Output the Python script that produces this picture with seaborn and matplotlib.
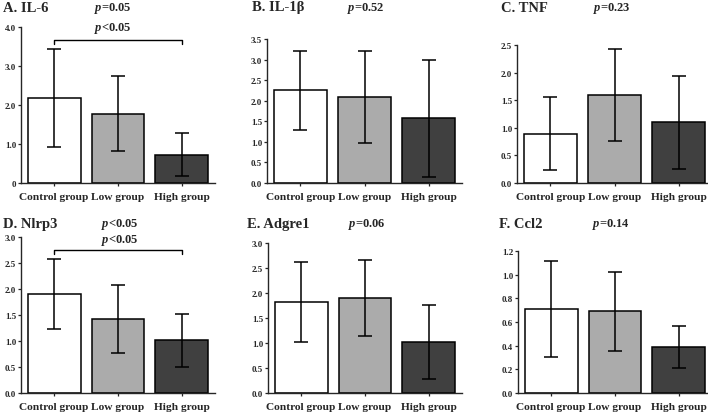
import numpy as np
import pandas as pd
import matplotlib
matplotlib.use("Agg")
import matplotlib.pyplot as plt
import seaborn as sns

sns.set_theme(style="ticks")
plt.rcParams['font.family'] = ['Liberation Serif', 'DejaVu Serif']
plt.rcParams['mathtext.fontset'] = 'custom'
plt.rcParams['mathtext.it'] = 'Liberation Serif:bold:italic'
plt.rcParams['mathtext.rm'] = 'Liberation Serif:bold'

groups = ["Control group", "Low group", "High group"]
colors = ["#FFFFFF", "#ABABAB", "#404040"]

titles = ["A. IL-6", "B. IL-1β", "C. TNF", "D. Nlrp3", "E. Adgre1", "F. Ccl2"]
pvals = ["$p$=0.05", "$p$=0.52", "$p$=0.23", "$p$<0.05", "$p$=0.06", "$p$=0.14"]

il6_mean = [2.18, 1.78, 0.73]
il6_sd = [1.25, 0.97, 0.54]
il1b_mean = [2.25, 2.10, 1.57]
il1b_sd = [0.95, 1.12, 1.42]
tnf_mean = [0.89, 1.59, 1.10]
tnf_sd = [0.66, 0.83, 0.84]
nlrp3_mean = [1.90, 1.42, 1.01]
nlrp3_sd = [0.67, 0.65, 0.51]
adgre1_mean = [1.83, 1.91, 1.02]
adgre1_sd = [0.80, 0.76, 0.74]
ccl2_mean = [0.71, 0.69, 0.39]
ccl2_sd = [0.405, 0.335, 0.175]

yticks = [
    [0, 1.0, 2.0, 3.0, 4.0],
    [0.0, 0.5, 1.0, 1.5, 2.0, 2.5, 3.0, 3.5],
    [0.0, 0.5, 1.0, 1.5, 2.0, 2.5],
    [0.0, 0.5, 1.0, 1.5, 2.0, 2.5, 3.0],
    [0.0, 0.5, 1.0, 1.5, 2.0, 2.5, 3.0],
    [0.0, 0.2, 0.4, 0.6, 0.8, 1.0, 1.2],
]
ytick_labels = [
    ["0", "1.0", "2.0", "3.0", "4.0"],
    ["0.0", "0.5", "1.0", "1.5", "2.0", "2.5", "3.0", "3.5"],
    ["0.0", "0.5", "1.0", "1.5", "2.0", "2.5"],
    ["0.0", "0.5", "1.0", "1.5", "2.0", "2.5", "3.0"],
    ["0.0", "0.5", "1.0", "1.5", "2.0", "2.5", "3.0"],
    ["0.0", "0.2", "0.4", "0.6", "0.8", "1.0", "1.2"],
]

means = [il6_mean, il1b_mean, tnf_mean, nlrp3_mean, adgre1_mean, ccl2_mean]
sds = [il6_sd, il1b_sd, tnf_sd, nlrp3_sd, adgre1_sd, ccl2_sd]

W, H = 708, 414
fig = plt.figure(figsize=(W / 100, H / 100), dpi=100)

# axes boxes in pixels: left, right, top, bottom
boxes = [
    (21, 215, 28, 184),
    (267, 462, 40, 184),
    (517, 712, 46, 184),
    (21, 215, 238, 394),
    (268, 462, 244, 394),
    (518, 712, 252, 394),
]
# title positions (px): title x, y center; p label x center
title_pos = [(3, 8, 113), (252, 8, 366), (501, 8, 612), (3, 225, 120), (247, 225, 367), (499, 225, 611)]

for i in range(6):
    l, r, t, b = boxes[i]
    ax = fig.add_axes([l / W, 1 - b / H, (r - l) / W, (b - t) / H])
    df = pd.DataFrame({"group": groups, "value": means[i]})
    sns.barplot(data=df, x="group", y="value", hue="group", palette=colors,
                order=groups, hue_order=groups, legend=False, width=0.83,
                edgecolor="black", linewidth=1.1, ax=ax, errorbar=None)
    ax.errorbar(np.arange(3), means[i], yerr=sds[i], fmt="none", ecolor="black",
                elinewidth=1.1, capsize=5, capthick=1.1)
    ax.set_xlim(-0.52, 2.52)
    ax.set_ylim(yticks[i][0], yticks[i][-1])
    ax.set_yticks(yticks[i])
    ax.set_yticklabels(ytick_labels[i], fontsize=6.5, fontweight="bold")
    ax.set_xticks(range(3))
    ax.set_xticklabels(groups, fontsize=8.2, fontweight="bold")
    ax.tick_params(axis="y", length=2.5, width=0.9, pad=1)
    ax.tick_params(axis="x", length=2.5, width=0.9, pad=4)
    ax.set_xlabel("")
    ax.set_ylabel("")
    for s in ["top", "right"]:
        ax.spines[s].set_visible(False)
    ax.spines["left"].set_linewidth(1.0)
    ax.spines["bottom"].set_linewidth(1.0)
    tx, ty, px = title_pos[i]
    fig.text(tx / W, 1 - ty / H, titles[i], fontsize=10.5, fontweight="bold",
             ha="left", va="center")
    fig.text(px / W, 1 - ty / H, pvals[i], fontsize=9, fontweight="bold",
             ha="center", va="center")
    if i in (0, 3):
        top = yticks[i][-1]
        yb = top * 0.918
        yt = top * 0.89
        ax.plot([0, 0, 2, 2], [yt, yb, yb, yt], color="black", lw=1.0, clip_on=False)
        label_y = 28 if i == 0 else 241
        fig.text(px / W, 1 - label_y / H, "$p$<0.05", fontsize=9, fontweight="bold",
                 ha="center", va="center")

fig.savefig("out.png", dpi=100)
